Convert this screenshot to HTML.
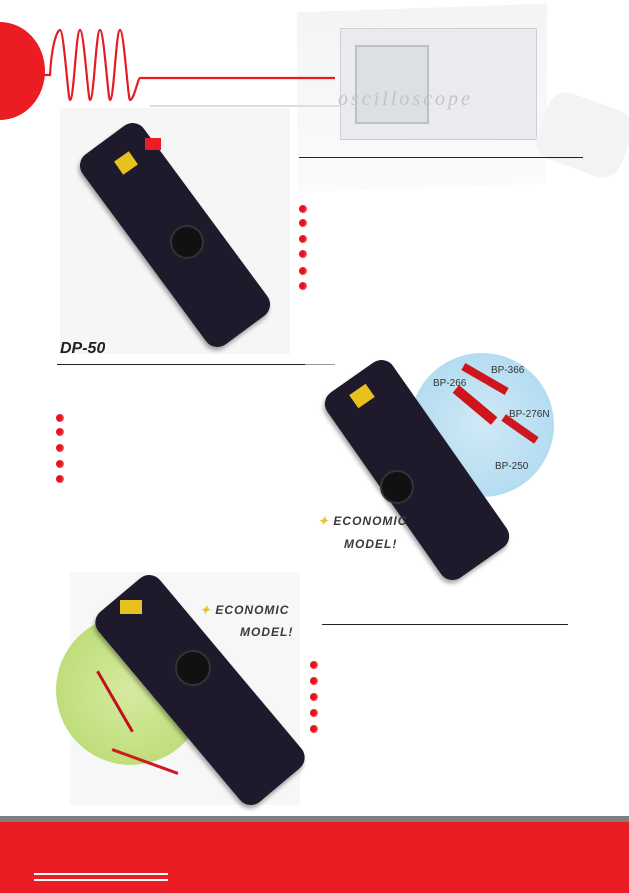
<!DOCTYPE html>
<html><head><meta charset="utf-8"><style>
body{margin:0;width:629px;height:893px;position:relative;overflow:hidden;background:#fff;font-family:"Liberation Sans",sans-serif}
.a{position:absolute}
.probe{position:absolute;background:#1e1a2c;border-radius:14px;box-shadow:2px 3px 4px rgba(0,0,0,.35)}
.dot{position:absolute;width:8px;height:8px;border-radius:50%;background:radial-gradient(circle at 35% 45%,#e8121c 40%,#f9a0a0 100%)}
.hr{position:absolute;height:1px;background:#222}
.lbl{position:absolute;font-size:10px;color:#333}
.eco{position:absolute;font:italic 900 12px 'Liberation Sans',sans-serif;color:#3a3a3a;letter-spacing:1px}
</style></head><body>
<!-- oscilloscope faint -->
<div class="a" style="left:297px;top:8px;width:250px;height:180px;background:linear-gradient(#f2f4f6,#fafbfc);transform:skewY(-2deg)"></div>
<div class="a" style="left:340px;top:28px;width:195px;height:110px;background:#e9ebee;border:1px solid #d0d0d0"></div>
<div class="a" style="left:355px;top:45px;width:70px;height:75px;background:#dcdfe3;border:2px solid #c0c0c0"></div>
<div class="a" style="left:540px;top:100px;width:89px;height:70px;background:#f1f3f5;border-radius:20px;transform:rotate(20deg)"></div>
<div class="a" style="left:338px;top:88px;color:#c4c4c4;font:italic 20px 'Liberation Serif',serif;letter-spacing:3px">oscilloscope</div>
<!-- red logo -->
<div class="a" style="left:-45px;top:22px;width:90px;height:98px;border-radius:50%;background:#ec1c24"></div>
<svg class="a" style="left:0;top:0" width="340" height="130">
<path d="M40 75 L50 75 C52 40,58 30,60 30 C64 30,68 100,70 100 C74 100,76 30,80 30 C84 30,88 100,90 100 C94 100,96 30,100 30 C104 30,108 100,110 100 C114 100,116 30,120 30 C124 30,128 100,130 100 C134 100,138 78,140 78 L335 78" fill="none" stroke="#e61c24" stroke-width="2.2"/>
<line x1="150" y1="106" x2="340" y2="106" stroke="#ddd" stroke-width="2"/>
</svg>
<div class="hr" style="left:299px;top:157px;width:284px"></div>
<!-- probe1 photo -->
<div class="a" style="left:60px;top:108px;width:230px;height:246px;background:#f6f6f6"></div>
<div class="probe" style="left:57px;top:197px;width:236px;height:76px;transform:rotate(53.6deg)"></div>
<div class="a" style="left:145px;top:138px;width:16px;height:12px;background:#ec1c24"></div>
<div class="a" style="left:117px;top:155px;width:18px;height:16px;background:#e8c020;transform:rotate(-35deg)"></div>
<div class="a" style="left:170px;top:225px;width:30px;height:30px;border-radius:50%;background:#111;border:2px solid #333"></div>
<div class="a" style="left:60px;top:340px;font-size:16px;font-weight:bold;font-style:italic;color:#222;height:14px;overflow:hidden">DP-50</div>
<div class="hr" style="left:57px;top:364px;width:248px"></div>
<div class="a" style="left:305px;top:364px;width:30px;height:1px;background:#999"></div>
<!-- bullets -->
<div class="dot" style="left:299px;top:205px"></div><div class="dot" style="left:299px;top:219px"></div><div class="dot" style="left:299px;top:235px"></div><div class="dot" style="left:299px;top:250px"></div><div class="dot" style="left:299px;top:267px"></div><div class="dot" style="left:299px;top:282px"></div>
<div class="dot" style="left:56px;top:414px"></div><div class="dot" style="left:56px;top:428px"></div><div class="dot" style="left:56px;top:444px"></div><div class="dot" style="left:56px;top:460px"></div><div class="dot" style="left:56px;top:475px"></div>
<div class="dot" style="left:310px;top:661px"></div><div class="dot" style="left:310px;top:677px"></div><div class="dot" style="left:310px;top:693px"></div><div class="dot" style="left:310px;top:709px"></div><div class="dot" style="left:310px;top:725px"></div>
<!-- probe2 -->
<div class="a" style="left:410px;top:353px;width:144px;height:144px;border-radius:50%;background:radial-gradient(circle,#cfe9f6,#a9d7ef)"></div>
<div class="probe" style="left:304px;top:430px;width:226px;height:80px;transform:rotate(55deg)"></div>
<div class="a" style="left:352px;top:388px;width:20px;height:16px;background:#e8c020;transform:rotate(-35deg)"></div>
<div class="a" style="left:380px;top:470px;width:30px;height:30px;border-radius:50%;background:#111;border:2px solid #333"></div>
<div class="a" style="left:460px;top:375px;width:50px;height:8px;background:#d0141c;transform:rotate(30deg)"></div>
<div class="a" style="left:450px;top:400px;width:50px;height:10px;background:#d0141c;transform:rotate(40deg)"></div>
<div class="a" style="left:500px;top:425px;width:40px;height:8px;background:#cc1820;transform:rotate(35deg)"></div>
<div class="lbl" style="left:491px;top:365px">BP-366</div>
<div class="lbl" style="left:433px;top:378px">BP-266</div>
<div class="lbl" style="left:509px;top:409px">BP-276N</div>
<div class="lbl" style="left:495px;top:461px">BP-250</div>
<div class="eco" style="left:318px;top:514px"><span style="color:#f0c020">✦</span> ECONOMIC</div>
<div class="eco" style="left:344px;top:537px">MODEL!</div>
<div class="hr" style="left:322px;top:624px;width:246px"></div>
<!-- probe3 -->
<div class="a" style="left:70px;top:572px;width:230px;height:233px;background:#f7f7f7"></div>
<div class="a" style="left:56px;top:615px;width:150px;height:150px;border-radius:50%;background:radial-gradient(circle,#d6eaa0,#b5d96a)"></div>
<div class="probe" style="left:76px;top:650px;width:248px;height:80px;transform:rotate(50deg)"></div>
<div class="a" style="left:120px;top:600px;width:22px;height:14px;background:#e8c020"></div>
<div class="a" style="left:175px;top:650px;width:32px;height:32px;border-radius:50%;background:#111;border:2px solid #333"></div>
<div class="a" style="left:80px;top:700px;width:70px;height:3px;background:#c1121b;transform:rotate(60deg)"></div>
<div class="a" style="left:110px;top:760px;width:70px;height:3px;background:#d01820;transform:rotate(20deg)"></div>
<div class="eco" style="left:200px;top:603px"><span style="color:#f0c020">✦</span> ECONOMIC</div>
<div class="eco" style="left:240px;top:625px">MODEL!</div>
<!-- footer -->
<div class="a" style="left:0;top:816px;width:629px;height:6px;background:#7f7f7f"></div>
<div class="a" style="left:0;top:822px;width:629px;height:71px;background:#ec1c24"></div>
<div class="a" style="left:34px;top:873px;width:134px;height:2px;background:#fff"></div>
<div class="a" style="left:34px;top:879px;width:134px;height:2px;background:#fff"></div>
</body></html>
